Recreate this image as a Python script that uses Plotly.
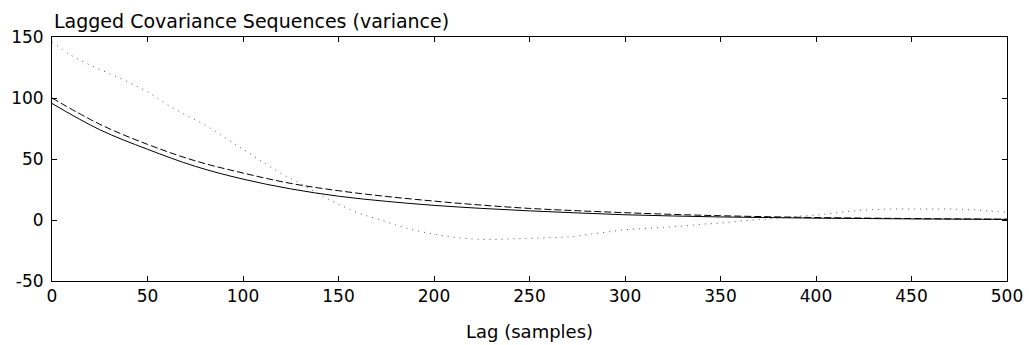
import plotly.graph_objects as go

# Lag values and series
lag_smooth = [0, 25, 50, 75, 100, 125, 150, 175, 200, 225, 250, 275, 300, 325, 350, 375, 400, 425, 450, 475, 500]
solid_vals = [95.5, 74, 58, 44, 33.5, 25.5, 19.5, 15.3, 12, 9.5, 7.5, 5.8, 4.3, 3.3, 2.5, 2, 1.5, 1.2, 0.9, 0.7, 0.5]
dashed_vals = [100, 78.5, 62, 48.5, 38.5, 30, 24, 19.3, 15.5, 12.2, 9.5, 7.6, 6, 4.6, 3.5, 2.7, 2, 1.6, 1.2, 0.9, 0.7]

lag_dotted = [0, 10, 20, 30, 40, 50, 60, 70, 80, 90, 100, 110, 120, 130, 140, 150, 160, 170, 180, 190,
              200, 210, 220, 230, 240, 250, 260, 270, 280, 290, 300, 310, 320, 330, 340, 350, 360, 370,
              380, 390, 400, 410, 420, 430, 440, 450, 460, 470, 480, 490, 500]
dotted_vals = [146, 135, 127, 120, 113, 105, 95, 86, 78, 68, 58, 48, 38, 30, 21, 13, 6, 1, -4, -8.5,
               -11.5, -14, -15.5, -16, -15.5, -15, -14.5, -14, -12, -10, -8, -7, -6, -5, -3.5, -2.5, -1, 0.3,
               1.5, 3, 4, 5.8, 7.5, 8.5, 9, 9, 9, 9, 8.5, 7.5, 6.3]

x_ticks = [0, 50, 100, 150, 200, 250, 300, 350, 400, 450, 500]
y_ticks = [-50, 0, 50, 100, 150]
title_text = "Lagged Covariance Sequences (variance)"
xlabel_text = "Lag (samples)"

FONT = "DejaVu Sans, Liberation Sans, Arial, sans-serif"

fig = go.Figure()
fig.add_trace(go.Scatter(x=lag_dotted, y=dotted_vals, mode="lines", line_shape="spline",
                         line=dict(color="#555555", width=1, dash="1px,5px"), showlegend=False))
fig.add_trace(go.Scatter(x=lag_smooth, y=dashed_vals, mode="lines", line_shape="spline",
                         line=dict(color="black", width=1, dash="7px,3px"), showlegend=False))
fig.add_trace(go.Scatter(x=lag_smooth, y=solid_vals, mode="lines", line_shape="spline",
                         line=dict(color="black", width=1), showlegend=False))

axis_common = dict(showline=True, linecolor="black", linewidth=1, mirror="ticks",
                   ticks="inside", ticklen=5, tickcolor="black", showgrid=False, zeroline=False,
                   automargin=False,
                   tickfont=dict(family=FONT, size=17, color="black"))

fig.update_layout(
    width=1029, height=345,
    margin=dict(l=52, r=22, t=37, b=64),
    plot_bgcolor="white", paper_bgcolor="white",
    font=dict(family=FONT, color="black"),
    xaxis=dict(range=[0, 500], tickvals=x_ticks, ticktext=[str(v) for v in x_ticks],
               **axis_common),
    yaxis=dict(range=[-50, 150], tickvals=y_ticks, ticktext=[str(v) for v in y_ticks],
               ticklabelstandoff=4, **axis_common),
    annotations=[
        dict(text=title_text, xref="paper", yref="paper", x=0, y=1, xanchor="left",
             align="left", yanchor="middle", yshift=16, showarrow=False,
             font=dict(family=FONT, size=19, color="black")),
        dict(text=xlabel_text, xref="paper", yref="paper", x=0.5, y=0, xanchor="center",
             yanchor="middle", yshift=-50, showarrow=False,
             font=dict(family=FONT, size=18, color="black")),
    ],
)

fig.write_html("out.html")
